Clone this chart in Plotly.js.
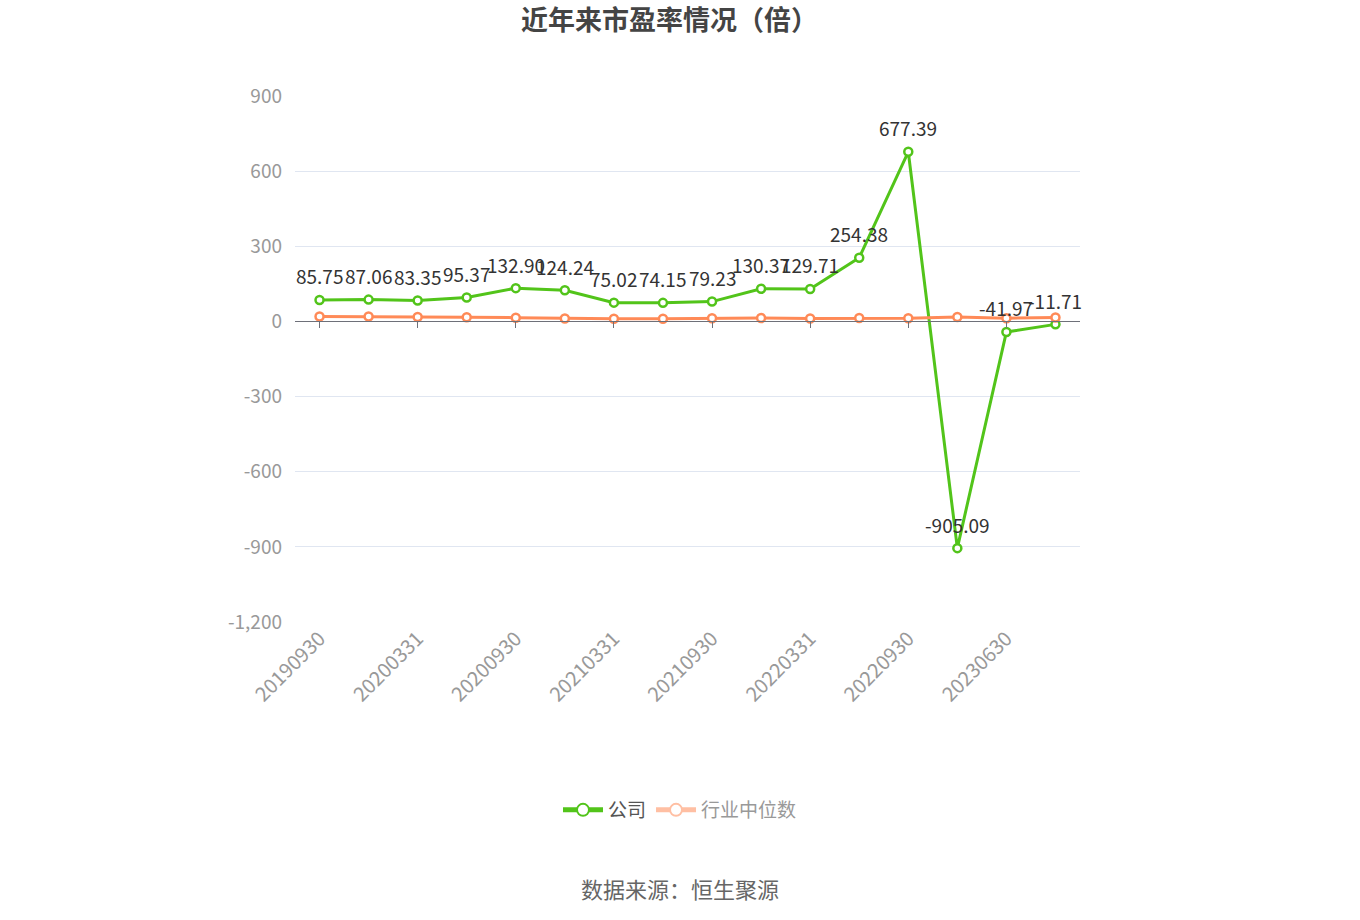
<!DOCTYPE html>
<html>
<head>
<meta charset="utf-8">
<script src="https://cdn.plot.ly/plotly-3.0.1.min.js"></script>
<style>
  html, body { margin: 0; padding: 0; background: #fff; }
  #chart { width: 1360px; height: 920px; }
</style>
</head>
<body>
<div id="chart"></div>
<script>
// 报告期
const dates = [
  "20190930", "20191231", "20200331", "20200630", "20200930", "20201231",
  "20210331", "20210630", "20210930", "20211231", "20220331", "20220630",
  "20220930", "20230331", "20230630", "20230930"
];
// 公司市盈率
const companyPE = [
  85.75, 87.06, 83.35, 95.37, 132.90, 124.24, 75.02, 74.15,
  79.23, 130.37, 129.71, 254.38, 677.39, -905.09, -41.97, -11.71
];
// 行业中位数
const industryPE = [
  20, 19.5, 18, 17, 15, 12, 11, 11,
  13, 13.5, 12, 13.5, 13, 18, 13, 16
];
const yTicks = [-1200, -900, -600, -300, 0, 300, 600, 900];
const yTickText = ["-1,200", "-900", "-600", "-300", "0", "300", "600", "900"];

const font = "'Noto Sans CJK SC', 'Noto Sans', sans-serif";
const green = "#52c41a";
const orange = "#ff8a57";

// 每隔一个显示一个标签
const shownTicks = dates.filter((d, i) => i % 2 === 0);

const company = {
  x: dates,
  y: companyPE,
  name: "<span style='color:#555'>公司</span>",
  type: "scatter",
  mode: "lines+markers",
  line: { color: green, width: 3 },
  marker: { symbol: "circle", size: 8, color: "#fff", line: { color: green, width: 2.5 } },
  cliponaxis: false,
};

const industry = {
  x: dates,
  y: industryPE,
  xaxis: "x2",
  type: "scatter",
  mode: "lines+markers",
  showlegend: false,
  line: { color: orange, width: 3 },
  marker: { symbol: "circle", size: 8, color: "#fff", line: { color: orange, width: 2.5 } },
  cliponaxis: false,
};

// 图例（行业中位数图例呈浅色）
const industryLegend = {
  x: [null],
  y: [null],
  name: "<span style='color:#999'>行业中位数</span>",
  type: "scatter",
  mode: "lines+markers",
  line: { color: "#ffbfa3", width: 3 },
  marker: { symbol: "circle", size: 8, color: "#fff", line: { color: "#ffbfa3", width: 2.5 } },
};

// 数据标签（类目轴上用序号定位）
const labels = companyPE.map((v, i) => ({
  x: i,
  y: v,
  xref: "x",
  yref: "y",
  text: v.toFixed(2),
  showarrow: false,
  xanchor: "center",
  yanchor: "middle",
  yshift: 24,
  font: { family: font, size: 19, color: "#333" },
}));

const zeroPos = (0 - yTicks[0]) / (yTicks[yTicks.length - 1] - yTicks[0]);

const layout = {
  width: 1360,
  height: 920,
  margin: { l: 295, r: 280, t: 96, b: 298 },
  paper_bgcolor: "#fff",
  plot_bgcolor: "#fff",
  font: { family: font, color: "#999" },
  title: {
    text: "<b>近年来市盈率情况（倍）</b>",
    font: { family: font, size: 27, color: "#444" },
    x: 521 / 1360, xref: "container", xanchor: "left",
    y: 0.978, yref: "container", yanchor: "middle",
  },
  xaxis: {
    type: "category",
    range: [-0.5, dates.length - 0.5],
    tickvals: shownTicks,
    ticktext: shownTicks,
    tickangle: -45,
    tickfont: { family: font, size: 20, color: "#999" },
    showgrid: false,
    showline: false,
    ticks: "",
    zeroline: false,
    fixedrange: true,
  },
  xaxis2: {
    type: "category",
    overlaying: "x",
    anchor: "free",
    position: zeroPos,
    range: [-0.5, dates.length - 0.5],
    tickvals: shownTicks,
    showticklabels: false,
    ticks: "outside",
    ticklen: 6,
    tickwidth: 1,
    tickcolor: "#6e7079",
    showline: true,
    linecolor: "#6e7079",
    linewidth: 1,
    showgrid: false,
    zeroline: false,
  },
  yaxis: {
    range: [yTicks[0], yTicks[yTicks.length - 1]],
    tickvals: yTicks,
    ticktext: yTickText,
    tickfont: { family: font, size: 19, color: "#999" },
    gridcolor: "#e0e6f1",
    gridwidth: 1,
    zeroline: false,
    showline: false,
    ticks: "",
    ticklabelstandoff: 12,
  },
  showlegend: true,
  legend: {
    orientation: "h",
    x: 0.5, xref: "container", xanchor: "center",
    y: (920 - 810) / 920, yref: "container", yanchor: "middle",
    font: { family: font, size: 19, color: "#555" },
    itemsizing: "constant",
    itemwidth: 40,
  },
  annotations: labels.concat([
    {
      text: "数据来源：恒生聚源",
      xref: "paper", yref: "paper",
      x: (680 - 295) / 785, y: (622 - 888) / 526,
      xanchor: "center", yanchor: "middle",
      showarrow: false,
      font: { family: font, size: 22, color: "#666" },
    },
  ]),
};

Plotly.newPlot("chart", [company, industry, industryLegend], layout, { displayModeBar: false, staticPlot: true });
</script>
</body>
</html>
